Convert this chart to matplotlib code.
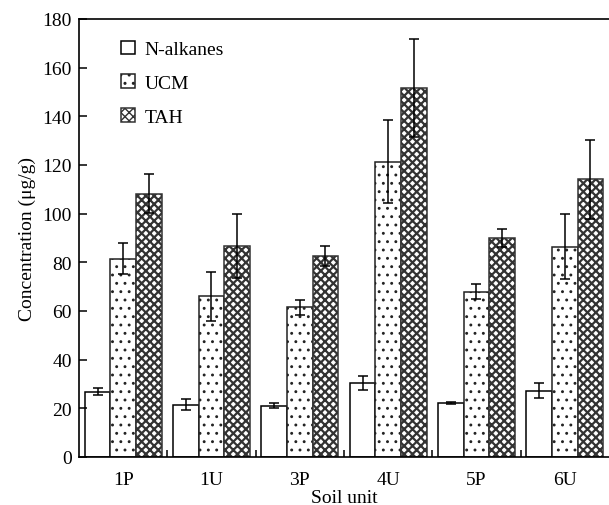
import numpy as np
import matplotlib.pyplot as plt

plt.rcParams['font.family'] = ['Liberation Serif', 'DejaVu Serif']

units = ["1P", "1U", "3P", "4U", "5P", "6U"]
alkanes = [26.8, 21.5, 21.0, 30.4, 22.1, 27.3]
alkanes_err = [1.5, 2.3, 1.0, 3.0, 0.3, 3.0]
ucm = [81.5, 66.0, 61.5, 121.3, 68.0, 86.5]
ucm_err = [6.5, 10.2, 3.2, 17.0, 3.0, 13.5]
tah = [108.2, 86.8, 82.6, 151.7, 90.0, 114.1]
tah_err = [8.0, 13.2, 4.2, 20.0, 3.6, 16.2]

fig = plt.figure(figsize=(6.09, 5.06), dpi=100)
ax = fig.add_axes([0.1297, 0.0949, 0.8703, 0.8656])

x = np.arange(len(units))
w = 0.29
ekw = dict(elinewidth=1.1, capthick=1.1, ecolor='black')
ax.bar(x - w, alkanes, w, yerr=alkanes_err, capsize=3.5, color='white',
       edgecolor='black', linewidth=1.1, error_kw=ekw, label='N-alkanes')
with plt.rc_context({'hatch.linewidth': 0.9}):
    ax.bar(x, ucm, w, yerr=ucm_err, capsize=3.5, color='white', hatch='..',
           edgecolor='#222222', linewidth=1.1, error_kw=ekw, label='UCM')
with plt.rc_context({'hatch.linewidth': 1.6}):
    ax.bar(x + w, tah, w, yerr=tah_err, capsize=3.5, color='white', hatch='xxxx',
           edgecolor='#333333', linewidth=1.1, error_kw=ekw, label='TAH')

ax.set_xlim(-0.5, 5.5)
ax.set_ylim(0, 180)
ax.set_yticks(range(0, 181, 20))
ax.set_xticks(x)
ax.set_xticklabels(units)
ax.set_xticks(np.arange(0.5, 5.5, 1), minor=True)
ax.tick_params(axis='x', which='major', length=0, labelsize=14, pad=10)
ax.tick_params(axis='x', which='minor', direction='in', length=5, width=1.1)
ax.tick_params(axis='y', direction='in', length=6, width=1.1, labelsize=14, pad=5)
ax.spines['right'].set_visible(False)
for s in ['left', 'bottom', 'top']:
    ax.spines[s].set_linewidth(1.2)

ax.set_xlabel('Soil unit', fontsize=14, labelpad=1)
ax.set_ylabel('Concentration (μg/g)', fontsize=14, labelpad=5)

ax.legend(loc='upper left', frameon=False, fontsize=14, handlelength=0.7,
          handleheight=0.7, handletextpad=0.5, labelspacing=0.82,
          bbox_to_anchor=(0.047, 0.99))

fig.savefig('out.png', dpi=100)
